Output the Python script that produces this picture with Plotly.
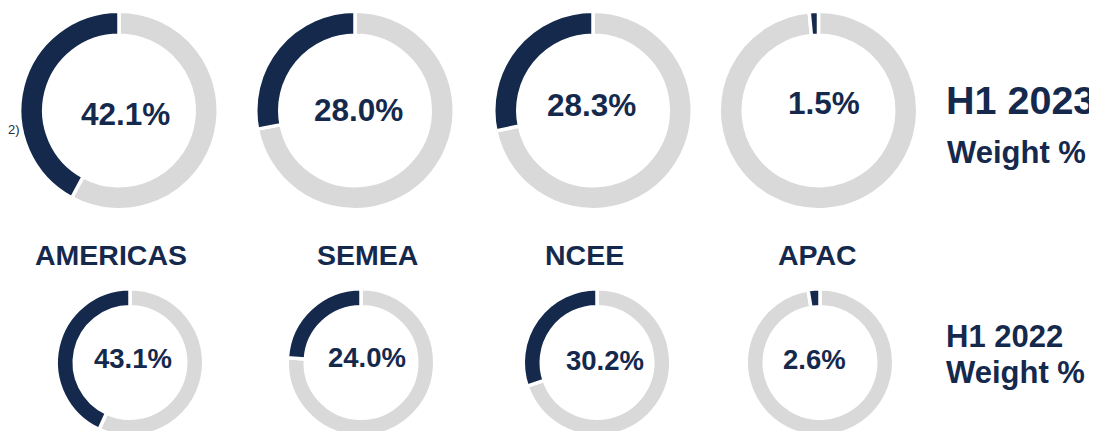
import plotly.graph_objects as go

# ---- data ----
regions = ["AMERICAS", "SEMEA", "NCEE", "APAC"]
weights_2023 = [42.1, 28.0, 28.3, 1.5]
weights_2022 = [43.1, 24.0, 30.2, 2.6]
row_titles_2023 = ["H1 2023", "Weight %"]
row_titles_2022 = ["H1 2022", "Weight %"]
footnote = "2)"

# ---- style / layout ----
W, H = 1097, 445          # figure size (page clips to the 1097x431 window)
OFF = 8                   # default body margin of the page
NAVY = "#15294D"
GREY = "#D9D9D9"
FONT = "Liberation Sans, Arial, sans-serif"
LW = 3.5

# positions below are in page pixels (as seen in the window)
top_cx = [119, 355, 593, 818.5]
top_cy = 110.5
top_r = 97.5 + LW / 2
bot_cx = [130, 361, 597, 820]
bot_cy = 362.5
bot_r = 72 + LW / 2

top_txt = [(125, 114.5), (358, 110), (591.5, 105), (824, 102.5)]
bot_txt = [(132.5, 358.5), (366.5, 357), (604.5, 360), (814.5, 359)]
lab_pos = [(110.5, 254.5), (367.5, 254.5), (584, 254.5), (817.5, 254.5)]


def fx(px):
    return (px - OFF) / W


def fy(py):
    return 1 - (py - OFF) / H


fig = go.Figure()


def add_donut(val, cx, cy, r, hole):
    # remainder first, clockwise from 12 o'clock, so the share ends at the top
    fig.add_trace(go.Pie(
        values=[100 - val, val],
        labels=["rest", "share"],
        sort=False,
        direction="clockwise",
        rotation=0,
        hole=hole,
        marker=dict(colors=[GREY, NAVY], line=dict(color="white", width=LW)),
        textinfo="none",
        hoverinfo="skip",
        showlegend=False,
        domain=dict(x=[fx(cx - r), fx(cx + r)],
                    y=[fy(cy + r), fy(cy - r)]),
    ))


for v, cx in zip(weights_2023, top_cx):
    add_donut(v, cx, top_cy, top_r, 0.758)
for v, cx in zip(weights_2022, bot_cx):
    add_donut(v, cx, bot_cy, bot_r, 0.756)


def ann(text, px, py, size, xanchor="center", color=NAVY):
    fig.add_annotation(
        text=text, x=fx(px), y=fy(py), xref="paper", yref="paper",
        xanchor=xanchor, yanchor="middle", showarrow=False,
        font=dict(family=FONT, size=size, color=color),
    )


for v, (px, py) in zip(weights_2023, top_txt):
    ann(f"<b>{v:.1f}%</b>", px, py, 31.5)
for v, (px, py) in zip(weights_2022, bot_txt):
    ann(f"<b>{v:.1f}%</b>", px, py, 27.5)
for name, (px, py) in zip(regions, lab_pos):
    ann(f"<b>{name}</b>", px, py, 28.5)

ann(f"<b>{row_titles_2023[0]}</b>", 944, 100, 39.5, "left")
ann(f"<b>{row_titles_2023[1]}</b>", 945, 152, 31, "left")
ann(f"<b>{row_titles_2022[0]}</b>", 944, 336, 31, "left")
ann(f"<b>{row_titles_2022[1]}</b>", 944, 372.5, 31, "left")

ann(footnote, 6, 130, 13, "left", "#1F2A3C")

fig.update_layout(
    width=W, height=H,
    margin=dict(l=0, r=0, t=0, b=0),
    paper_bgcolor="white", plot_bgcolor="white",
)

fig.write_html("out.html")
